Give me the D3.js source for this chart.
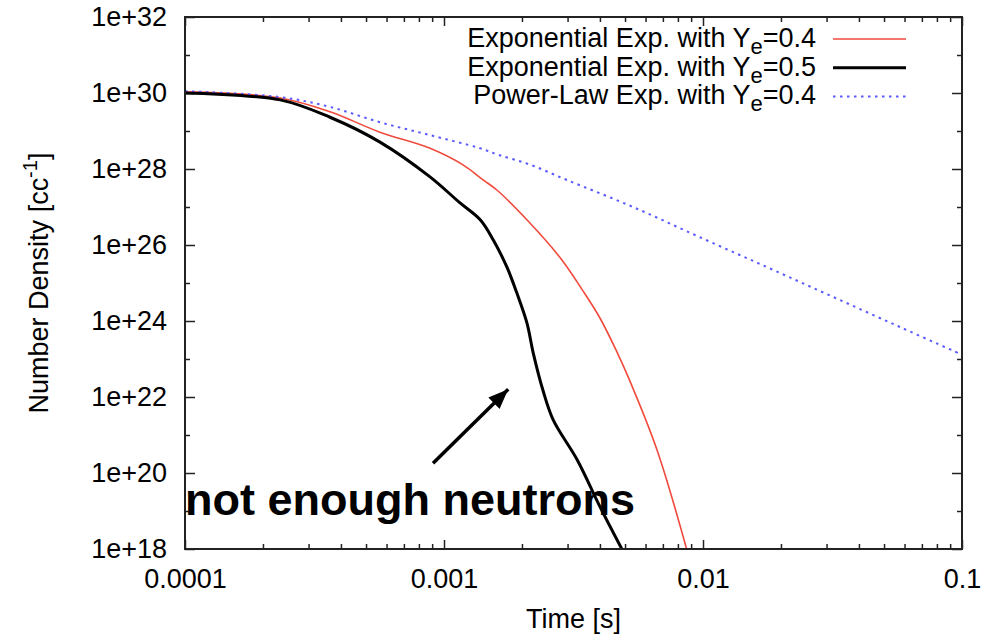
<!DOCTYPE html>
<html>
<head>
<meta charset="utf-8">
<script src="https://cdn.jsdelivr.net/npm/d3@7"></script>
<style>
  body { margin: 0; background: #fff; }
  svg { display: block; font-family: "Liberation Sans", Arial, Helvetica, sans-serif; }
</style>
</head>
<body>
<svg id="chart"></svg>
<script>
// Data (time in s, number density in cc^-1)
const timeExp05 = [1e-4, 2.33e-4, 3.63e-4, 5.66e-4, 8.83e-4, 1.15e-3, 1.38e-3, 1.55e-3, 1.75e-3, 1.91e-3, 2.09e-3, 2.21e-3, 2.41e-3, 2.64e-3, 3.27e-3, 4.0e-3, 4.86e-3];
const densExp05 = [1.0e30, 6.6e29, 2.3e29, 5.1e28, 6.2e27, 1.3e27, 4.6e26, 1.35e26, 2.6e25, 5.5e24, 8.9e23, 1.45e23, 1.5e22, 2.5e21, 2.2e20, 1.3e19, 1.0e18];

const timeExp04 = [1e-4, 2.33e-4, 3.63e-4, 5.66e-4, 8.83e-4, 1.18e-3, 1.42e-3, 1.6e-3, 2.09e-3, 2.81e-3, 3.44e-3, 4.0e-3, 4.66e-3, 5.13e-3, 6.64e-3, 8.67e-3];
const densExp04 = [1.07e30, 7.4e29, 3.2e29, 9.3e28, 3.5e28, 1.3e28, 5.1e27, 2.8e27, 4.6e26, 4.6e25, 6.2e24, 1.2e24, 1.5e23, 3.5e22, 4.1e20, 9.3e17];

const timePow04 = [1e-4, 2.33e-4, 3.63e-4, 5.66e-4, 8.83e-4, 1.38e-3, 1.64e-3, 2.15e-3, 2.99e-3, 5.37e-3, 9.73e-3, 1.77e-2, 3.18e-2, 5.77e-2, 0.1];
const densPow04 = [1.12e30, 7.8e29, 4.3e29, 1.7e29, 7.8e28, 3.5e28, 2.3e28, 1.3e28, 5.1e27, 1.0e27, 1.6e26, 2.6e25, 4.3e24, 6.9e23, 1.3e23];

const xTickValues = [1e-4, 1e-3, 1e-2, 1e-1];
const xTickLabels = ["0.0001", "0.001", "0.01", "0.1"];
const yTickExponents = [18, 20, 22, 24, 26, 28, 30, 32];

const legendNames = ["Exponential Exp. with Y", "Exponential Exp. with Y", "Power-Law Exp. with Y"];
const legendSuffix = ["=0.4", "=0.5", "=0.4"];

// Dimensions
const width = 987;
const height = 639;
const margin = {top: 17, right: 25, bottom: 90, left: 185};
const innerW = width - margin.left - margin.right;
const innerH = height - margin.top - margin.bottom;

const svg = d3.select("#chart")
  .attr("width", width)
  .attr("height", height);

const g = svg.append("g")
  .attr("transform", `translate(${margin.left},${margin.top})`);

const x = d3.scaleLog().domain([1e-4, 0.1]).range([0, innerW]);
const y = d3.scaleLog().domain([1e18, 1e32]).range([innerH, 0]);

// minor ticks (2..9 per decade on x, every decade on y)
const xMinor = [];
for (let e = -4; e < -1; e++) {
  for (let k = 2; k <= 9; k++) xMinor.push(k * Math.pow(10, e));
}
const yMinor = d3.range(19, 32, 2).map(e => Math.pow(10, e));
const yMajor = yTickExponents.map(e => Math.pow(10, e));

const fontSize = 27;

// bottom axis with labels
const xAxis = g.append("g")
  .attr("transform", `translate(0,${innerH})`)
  .call(d3.axisBottom(x).tickValues(xTickValues)
    .tickFormat((d, i) => xTickLabels[i])
    .tickSizeInner(-9).tickSizeOuter(0).tickPadding(20));
xAxis.selectAll("text").attr("font-size", fontSize).attr("fill", "#000");

g.append("g")
  .attr("transform", `translate(0,${innerH})`)
  .call(d3.axisBottom(x).tickValues(xMinor).tickFormat("").tickSizeInner(-5).tickSizeOuter(0));

// top mirror
g.append("g")
  .call(d3.axisTop(x).tickValues(xTickValues).tickFormat("").tickSizeInner(-9).tickSizeOuter(0));
g.append("g")
  .call(d3.axisTop(x).tickValues(xMinor).tickFormat("").tickSizeInner(-5).tickSizeOuter(0));

// left axis with labels
const yAxis = g.append("g")
  .call(d3.axisLeft(y).tickValues(yMajor)
    .tickFormat(d => "1e+" + Math.round(Math.log10(d)))
    .tickSizeInner(-10).tickSizeOuter(0).tickPadding(18));
yAxis.selectAll("text").attr("font-size", fontSize).attr("fill", "#000");

g.append("g")
  .call(d3.axisLeft(y).tickValues(yMinor).tickFormat("").tickSizeInner(-5).tickSizeOuter(0));

// right mirror
g.append("g")
  .attr("transform", `translate(${innerW},0)`)
  .call(d3.axisRight(y).tickValues(yMajor).tickFormat("").tickSizeInner(-10).tickSizeOuter(0));
g.append("g")
  .attr("transform", `translate(${innerW},0)`)
  .call(d3.axisRight(y).tickValues(yMinor).tickFormat("").tickSizeInner(-5).tickSizeOuter(0));

g.selectAll(".domain").remove();
g.selectAll(".tick line").attr("stroke", "#222").attr("stroke-width", 1.5);

// clip so curves stop at the frame
g.append("clipPath").attr("id", "plotClip")
  .append("rect").attr("width", innerW).attr("height", innerH);

const series = [
  {t: timeExp04, n: densExp04, color: "#f04a3c", width: 1.6, dash: null},
  {t: timeExp05, n: densExp05, color: "#000", width: 3, dash: null},
  {t: timePow04, n: densPow04, color: "#5a5aff", width: 2, dash: "2.5,4.5"}
];

const line = d3.line()
  .x(d => x(d[0]))
  .y(d => y(d[1]))
  .curve(d3.curveCatmullRom.alpha(0.5));

const plot = g.append("g").attr("clip-path", "url(#plotClip)");

// draw red first, then blue, black on top
[0, 2, 1].forEach(i => {
  const s = series[i];
  plot.append("path")
    .datum(s.t.map((t, j) => [t, s.n[j]]))
    .attr("fill", "none")
    .attr("stroke", s.color)
    .attr("stroke-width", s.width)
    .attr("stroke-dasharray", s.dash)
    .attr("d", line);
});

// frame
g.append("rect")
  .attr("width", innerW)
  .attr("height", innerH)
  .attr("fill", "none")
  .attr("stroke", "#222")
  .attr("stroke-width", 2);

// legend
const legendRight = 816 - margin.left;
const legend = g.append("g");
series.forEach((s, i) => {
  const base = 30 + i * 28.7;
  const txt = legend.append("text")
    .attr("x", legendRight)
    .attr("y", base)
    .attr("text-anchor", "end")
    .attr("font-size", fontSize)
    .attr("fill", "#000");
  txt.append("tspan").text(legendNames[i]);
  txt.append("tspan").attr("dy", 7).attr("font-size", 22).text("e");
  txt.append("tspan").attr("dy", -7).text(legendSuffix[i]);

  legend.append("line")
    .attr("x1", 833 - margin.left)
    .attr("x2", 906 - margin.left)
    .attr("y1", base - 8)
    .attr("y2", base - 8)
    .attr("stroke", s.color)
    .attr("stroke-width", s.width)
    .attr("stroke-dasharray", s.dash);
});

// axis titles
svg.append("text")
  .attr("x", margin.left + innerW / 2)
  .attr("y", 628)
  .attr("text-anchor", "middle")
  .attr("font-size", fontSize)
  .text("Time [s]");

const yTitle = svg.append("text")
  .attr("transform", `translate(48,${margin.top + innerH / 2}) rotate(-90)`)
  .attr("text-anchor", "middle")
  .attr("font-size", fontSize);
yTitle.append("tspan").text("Number Density [cc");
yTitle.append("tspan").attr("dy", -11).attr("font-size", 20).text("-1");
yTitle.append("tspan").attr("dy", 11).text("]");

// annotation
svg.append("defs").append("marker")
  .attr("id", "arrowHead")
  .attr("markerUnits", "userSpaceOnUse")
  .attr("viewBox", "0 0 20 16")
  .attr("refX", 20).attr("refY", 8)
  .attr("markerWidth", 20).attr("markerHeight", 16)
  .attr("orient", "auto")
  .append("path")
  .attr("d", "M0,0 L20,8 L0,16 Z")
  .attr("fill", "#000");

g.append("line")
  .attr("x1", x(9.07e-4)).attr("y1", y(1.8e20))
  .attr("x2", x(1.77e-3)).attr("y2", y(1.6e22))
  .attr("stroke", "#000")
  .attr("stroke-width", 3.5)
  .attr("marker-end", "url(#arrowHead)");

g.append("text")
  .attr("x", x(1e-4))
  .attr("y", y(7.9e18))
  .attr("font-size", 45)
  .attr("font-weight", "bold")
  .attr("fill", "#000")
  .text("not enough neutrons");
</script>
</body>
</html>
